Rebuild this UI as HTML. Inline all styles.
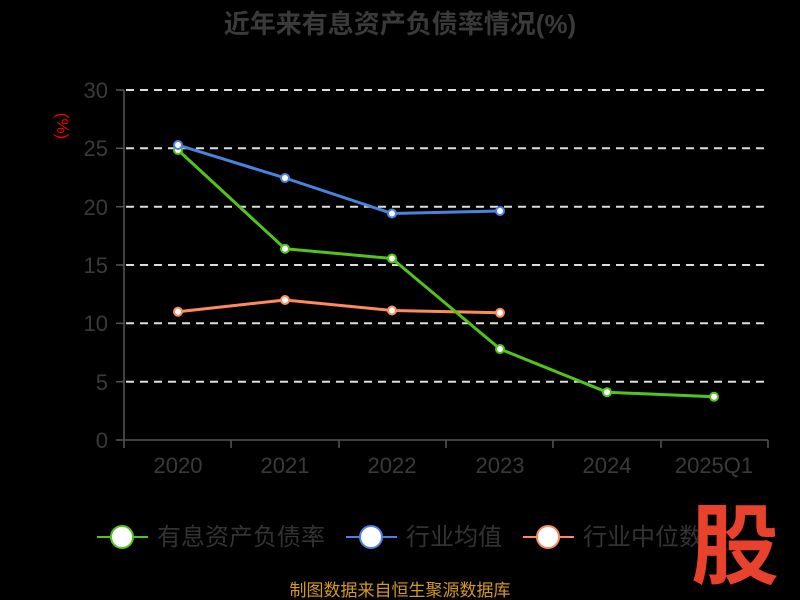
<!DOCTYPE html>
<html><head><meta charset="utf-8"><style>
html,body{margin:0;padding:0;background:#000;}
svg{display:block;font-family:"Liberation Sans","Noto Sans CJK SC",sans-serif;}
</style></head><body>
<svg width="800" height="600" viewBox="0 0 800 600">
<rect width="800" height="600" fill="#000"/>
<text x="400" y="33" text-anchor="middle" font-size="26" font-weight="bold" fill="#3a3a3a">近年来有息资产负债率情况(%)</text>
<g stroke="#ddd" stroke-width="2" stroke-dasharray="8,6">
<line x1="126" y1="90" x2="768" y2="90"/>
<line x1="126" y1="148.3" x2="768" y2="148.3"/>
<line x1="126" y1="206.7" x2="768" y2="206.7"/>
<line x1="126" y1="265" x2="768" y2="265"/>
<line x1="126" y1="323.3" x2="768" y2="323.3"/>
<line x1="126" y1="381.7" x2="768" y2="381.7"/>
</g>
<g stroke="#555" stroke-width="1.5">
<line x1="124" y1="90" x2="124" y2="440"/>
<line x1="124" y1="440" x2="768" y2="440"/>
<line x1="116" y1="90" x2="124" y2="90"/><line x1="116" y1="148.3" x2="124" y2="148.3"/>
<line x1="116" y1="206.7" x2="124" y2="206.7"/><line x1="116" y1="265" x2="124" y2="265"/>
<line x1="116" y1="323.3" x2="124" y2="323.3"/><line x1="116" y1="381.7" x2="124" y2="381.7"/>
<line x1="116" y1="440" x2="124" y2="440"/>
<line x1="124" y1="440" x2="124" y2="448"/><line x1="231" y1="440" x2="231" y2="448"/>
<line x1="339" y1="440" x2="339" y2="448"/><line x1="446" y1="440" x2="446" y2="448"/>
<line x1="553" y1="440" x2="553" y2="448"/><line x1="661" y1="440" x2="661" y2="448"/>
<line x1="768" y1="440" x2="768" y2="448"/>
</g>
<g font-size="22" fill="#3a3a3a" text-anchor="end">
<text x="108" y="98">30</text><text x="108" y="156">25</text><text x="108" y="215">20</text>
<text x="108" y="273">15</text><text x="108" y="331">10</text><text x="108" y="390">5</text><text x="108" y="448">0</text>
</g>
<g font-size="22" fill="#3a3a3a" text-anchor="middle">
<text x="178" y="473">2020</text><text x="285" y="473">2021</text><text x="392" y="473">2022</text>
<text x="500" y="473">2023</text><text x="607" y="473">2024</text><text x="714" y="473">2025Q1</text>
</g>
<text transform="translate(57,126) rotate(90)" font-size="17" fill="#e00" text-anchor="middle">(%)</text>
<g fill="none" stroke-width="3" stroke-linejoin="round">
<polyline stroke="#ff8a5c" points="178,311.7 285,300 392,310.5 500,312.8"/>
<polyline stroke="#4a82e0" points="178,145 285,178 392,213.5 500,211"/>
<polyline stroke="#52c41a" points="178,150 285,248.7 392,258.5 500,349 607,392.2 714,396.8"/>
</g>
<g stroke-width="2" fill="#fff">
<g stroke="#ff8a5c"><circle cx="178" cy="311.7" r="4"/><circle cx="285" cy="300" r="4"/><circle cx="392" cy="310.5" r="4"/><circle cx="500" cy="312.8" r="4"/></g>
<g stroke="#52c41a"><circle cx="178" cy="150" r="4"/><circle cx="285" cy="248.7" r="4"/><circle cx="392" cy="258.5" r="4"/><circle cx="500" cy="349" r="4"/><circle cx="607" cy="392.2" r="4"/><circle cx="714" cy="396.8" r="4"/></g>
<g stroke="#4a82e0"><circle cx="178" cy="145" r="4"/><circle cx="285" cy="178" r="4"/><circle cx="392" cy="213.5" r="4"/><circle cx="500" cy="211" r="4"/></g>
</g>
<g stroke-width="2">
<line x1="97" y1="537" x2="148" y2="537" stroke="#52c41a"/>
<circle cx="122" cy="537" r="11" fill="#fff" stroke="#52c41a"/>
<line x1="346" y1="537" x2="397" y2="537" stroke="#4a82e0"/>
<circle cx="371" cy="537" r="11" fill="#fff" stroke="#4a82e0"/>
<line x1="523" y1="537" x2="574" y2="537" stroke="#ff8a5c"/>
<circle cx="548" cy="537" r="11" fill="#fff" stroke="#ff8a5c"/>
</g>
<g font-size="24" fill="#333">
<text x="157" y="545">有息资产负债率</text>
<text x="406" y="545">行业均值</text>
<text x="583" y="545">行业中位数</text>
</g>
<text x="735" y="577" text-anchor="middle" font-size="88" font-weight="bold" fill="#e8412c">股</text>
<text x="400" y="596" text-anchor="middle" font-size="17" fill="#d49a1e">制图数据来自恒生聚源数据库</text>
</svg>
</body></html>
